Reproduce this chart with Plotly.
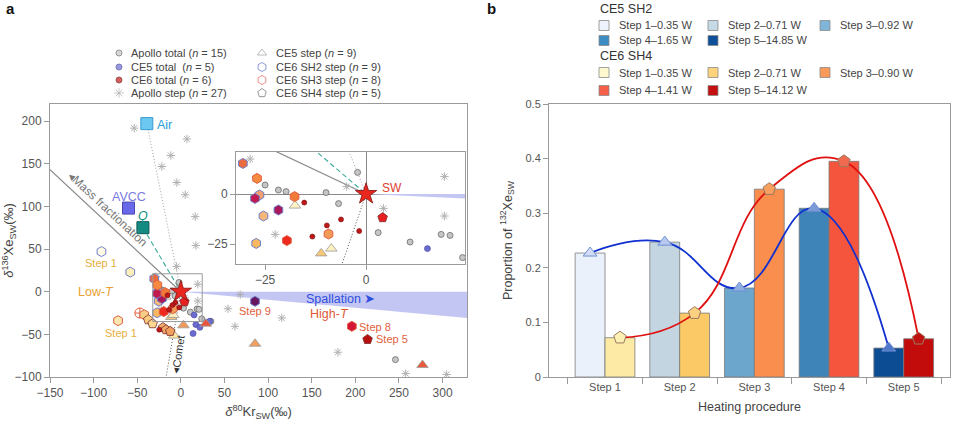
import plotly.graph_objects as go

W, H = 960, 421
FONT = "Liberation Sans"
TXT = "#444444"


def pxx(x):
    return x / W


def pxy(y):
    return 1 - y / H


# ---------------- panel a data ----------------
apollo_total_x = [-25, -21.7, -19.8, -9.9, -2.1, -6.8, 3, 10.9, 18.6, 20.8, 23.9, 34.4, 246]
apollo_total_y = [4.5, 2, 1.2, 0.7, 10.8, -4.8, -19.3, -24, -20.2, -20.7, -31.8, -34.7, -79.6]

ce5_total_x = [15.2, 17.2, 21.8, 14, 33]
ce5_total_y = [-27.3, -38.6, -41.8, -49, -34.7]

ce6_total_x = [-15.3, -6.2, -9.7, -1.7, -13.3, -24.8]
ce6_total_y = [-4.3, -12.7, -15.7, -18.5, -21.3, -44.5]

apollo_step_x = [-53.5, 6.9, -11.5, -21.8, -4.6, 5, 16.4, 17.2, -4.8, 68, 54, 62, 115.7, 180,
                 257.7, 304.7, -28.7, -4.8, 4.3, -22.5, 19.4, 19.4]
apollo_step_y = [191.7, 179, 159.6, 146.7, 128, 113.6, 88, 54.2, 29.6, -3.5, -20, -40.6, -30.8, -71,
                 -96, -97, 17.5, 3.7, -7.2, -20.2, 8.7, -11]

ce5_step_x = [-17.6, -11.1, -8.6, -7.6, 3, 28.6, 85, 277]
ce5_step_y = [-5.8, -29.7, -27.3, -51.5, -39.4, -37.5, -61, -86]
ce5_step_col = ["#fff4c6", "#f8c878", "#fff0c0", "#fde6a0", "#f39a5a", "#e8553a", "#f0a060", "#e85a3a"]

ce6_sh2_x = [-91, -58, -25.4, -26.4, -30.5, -21.7, -27.5, -27.2, 85]
ce6_sh2_y = [47, 23, -11, -0.5, 15.3, -8, -2.2, -24.7, -11.3]
ce6_sh2_col = ["#fffbe6", "#fbeeb8", "#f5b77a", "#f2a070", "#ec6a40", "#a8185a", "#c01a50", "#f8b860", "#6a1560"]

ce6_sh3_x = [-72, -47, -42, -27, -17.7, -9.3, -19.6, 196]
ce6_sh3_y = [-34, -25, -27, 7.8, -1.3, -20, -23.3, -40.6]
ce6_sh3_col = ["#fde6b0", "#ffffff", "#f9cf88", "#f58a40", "#f27a38", "#f29a58", "#ee2a20", "#d51535"]
ce6_sh3_sym = ["hexagon", "circle-cross", "hexagon", "hexagon", "hexagon", "hexagon", "hexagon", "hexagon"]

ce6_sh4_x = [-37.4, -32.4, -20.5, -17, -12.2, 4.1, 214]
ce6_sh4_y = [-32.8, -37.5, -42, -44.5, -46.5, -11.8, -56]
ce6_sh4_col = ["#f8cc80", "#fcd890", "#f4b070", "#f0a868", "#f0a060", "#e82020", "#b81010"]

sw_xy = (0, 0)
air_xy = (-39, 197)
avcc_xy = (-60, 98)
q_xy = (-43.5, 75)
mass_frac_x = [-150, 0]
mass_frac_y = [143, 0]
comet_x = [0, -17]
comet_y = [0, -100]
spall_x = [0, 330, 330, 0]
spall_y = [0, 0, -31, 0]

inset_xr = [-32.2, 24.5]
inset_yr = [-35, 21]

# ---------------- panel b data ----------------
steps = ["Step 1", "Step 2", "Step 3", "Step 4", "Step 5"]
ce5_vals = [0.227, 0.247, 0.163, 0.309, 0.053]
ce6_vals = [0.072, 0.117, 0.344, 0.395, 0.070]
ce5_names = ["Step 1–0.35 W", "Step 2–0.71 W", "Step 3–0.92 W", "Step 4–1.65 W", "Step 5–14.85 W"]
ce6_names = ["Step 1–0.35 W", "Step 2–0.71 W", "Step 3–0.90 W", "Step 4–1.41 W", "Step 5–14.12 W"]
ce5_colors = ["#ebf1fb", "#c2d5e1", "#6ca6cd", "#3f84b8", "#0c4c93"]
ce6_colors = ["#fdeaa4", "#fbc965", "#f98e4f", "#f5553c", "#c20c0c"]
ce5_leg_colors = ["#eef2fa", "#c5d9e6", "#7fb5d8", "#3c8cc4", "#0d4f99"]
ce6_leg_colors = ["#fef8cf", "#fcd27a", "#f9995a", "#f5604a", "#c41010"]
ce5_tri_col = ["#d2ddf5", "#b8c8ee", "#8eaee0", "#7c9ad8", "#4f78c8"]
ce6_pent_col = ["#fdf0b5", "#fbd080", "#f8a060", "#f06a50", "#c01010"]

fig = go.Figure()

# ---------- panel a traces (main and inset) ----------
for xa, ya in (("x", "y"), ("x2", "y2")):
    fig.add_trace(go.Scatter(x=spall_x, y=spall_y, mode="lines", fill="toself",
                             fillcolor="#c3c6f3", line=dict(width=0), xaxis=xa, yaxis=ya,
                             showlegend=False, hoverinfo="skip"))
    fig.add_trace(go.Scatter(x=mass_frac_x, y=mass_frac_y, mode="lines",
                             line=dict(color="#8a8a8a", width=1.2), xaxis=xa, yaxis=ya, showlegend=False))
    fig.add_trace(go.Scatter(x=[q_xy[0], sw_xy[0]], y=[q_xy[1], sw_xy[1]], mode="lines",
                             line=dict(color="#3aaa98", width=1.1, dash="5px,3px"), xaxis=xa, yaxis=ya,
                             showlegend=False))
    fig.add_trace(go.Scatter(x=[air_xy[0], sw_xy[0]], y=[air_xy[1], sw_xy[1]], mode="lines",
                             line=dict(color="#a0a0a0", width=1, dash="1px,2px"), xaxis=xa, yaxis=ya,
                             showlegend=False))
    fig.add_trace(go.Scatter(x=comet_x, y=comet_y, mode="lines",
                             line=dict(color="#555555", width=1, dash="1px,2px"), xaxis=xa, yaxis=ya,
                             showlegend=False))
    fig.add_trace(go.Scatter(x=apollo_step_x, y=apollo_step_y, mode="markers",
                             marker=dict(symbol="asterisk-open", size=7, color="#b0b0b0",
                                         line=dict(color="#b0b0b0", width=1)),
                             xaxis=xa, yaxis=ya, showlegend=False))
    fig.add_trace(go.Scatter(x=apollo_total_x, y=apollo_total_y, mode="markers",
                             marker=dict(symbol="circle", size=6, color="#c6c6c6",
                                         line=dict(color="#6a6a6a", width=0.8)),
                             xaxis=xa, yaxis=ya, showlegend=False))
    fig.add_trace(go.Scatter(x=ce5_total_x, y=ce5_total_y, mode="markers",
                             marker=dict(symbol="circle", size=6, color="#6c6cd0",
                                         line=dict(color="#4444a0", width=0.6)),
                             xaxis=xa, yaxis=ya, showlegend=False))
    fig.add_trace(go.Scatter(x=ce5_step_x, y=ce5_step_y, mode="markers",
                             marker=dict(symbol="triangle-up", size=10, color=ce5_step_col,
                                         line=dict(color="#9a9a9a", width=0.8)),
                             xaxis=xa, yaxis=ya, showlegend=False))
    fig.add_trace(go.Scatter(x=ce6_sh2_x, y=ce6_sh2_y, mode="markers",
                             marker=dict(symbol="hexagon", size=10, color=ce6_sh2_col,
                                         line=dict(color="#6f7fc8", width=1)),
                             xaxis=xa, yaxis=ya, showlegend=False))
    fig.add_trace(go.Scatter(x=ce6_sh3_x, y=ce6_sh3_y, mode="markers",
                             marker=dict(symbol=ce6_sh3_sym, size=10, color=ce6_sh3_col,
                                         line=dict(color="#e06040", width=1)),
                             xaxis=xa, yaxis=ya, showlegend=False))
    fig.add_trace(go.Scatter(x=ce6_sh4_x, y=ce6_sh4_y, mode="markers",
                             marker=dict(symbol="pentagon", size=10, color=ce6_sh4_col,
                                         line=dict(color="#7a2a2a", width=0.8)),
                             xaxis=xa, yaxis=ya, showlegend=False))
    fig.add_trace(go.Scatter(x=ce6_total_x, y=ce6_total_y, mode="markers",
                             marker=dict(symbol="circle", size=5, color="#c01818",
                                         line=dict(color="#701010", width=0.6)),
                             xaxis=xa, yaxis=ya, showlegend=False))
    fig.add_trace(go.Scatter(x=[sw_xy[0]], y=[sw_xy[1]], mode="markers",
                             marker=dict(symbol="star", size=16, color="#e8281e",
                                         line=dict(color="#801010", width=0.8)),
                             xaxis=xa, yaxis=ya, showlegend=False))

# end members (main only)
fig.add_trace(go.Scatter(x=[air_xy[0], avcc_xy[0], q_xy[0]], y=[air_xy[1], avcc_xy[1], q_xy[1]],
                         mode="markers",
                         marker=dict(symbol="square", size=12, color=["#6cc8f0", "#6868e8", "#138a82"],
                                     line=dict(color=["#3a9ad0", "#4848b0", "#0a5a55"], width=1)),
                         xaxis="x", yaxis="y", showlegend=False))

# ---------- panel b traces ----------
for i in range(len(steps)):
    fig.add_trace(go.Bar(x=[i], y=[ce5_vals[i]], width=0.4, offset=-0.4,
                         marker=dict(color=ce5_colors[i], line=dict(color="#7a7a7a", width=0.8)),
                         xaxis="x3", yaxis="y3", showlegend=False))
    fig.add_trace(go.Bar(x=[i], y=[ce6_vals[i]], width=0.4, offset=0,
                         marker=dict(color=ce6_colors[i], line=dict(color="#7a7a7a", width=0.8)),
                         xaxis="x3", yaxis="y3", showlegend=False))

ce5_pos = [i - 0.2 for i in range(len(steps))]
ce6_pos = [i + 0.2 for i in range(len(steps))]
fig.add_trace(go.Scatter(x=ce5_pos, y=ce5_vals, mode="lines",
                         line=dict(color="#1030d0", width=1.8, shape="spline", smoothing=1.3),
                         xaxis="x3", yaxis="y3", showlegend=False))
fig.add_trace(go.Scatter(x=ce6_pos, y=ce6_vals, mode="lines",
                         line=dict(color="#e01010", width=1.8, shape="spline", smoothing=1.3),
                         xaxis="x3", yaxis="y3", showlegend=False))
fig.add_trace(go.Scatter(x=ce5_pos, y=ce5_vals, mode="markers",
                         marker=dict(symbol="triangle-up", size=12, color=ce5_tri_col,
                                     line=dict(color="#6f8fd6", width=1)),
                         xaxis="x3", yaxis="y3", showlegend=False))
fig.add_trace(go.Scatter(x=ce6_pos, y=ce6_vals, mode="markers",
                         marker=dict(symbol="pentagon", size=13, color=ce6_pent_col,
                                     line=dict(color="#9a7a60", width=1)),
                         xaxis="x3", yaxis="y3", showlegend=False))

# ---------- panel a legend keys (overlay pixel axes) ----------
leg_a_labels = ["Apollo total (<i>n</i> = 15)", "CE5 total  (<i>n</i> = 5)", "CE6 total (<i>n</i> = 6)",
                "Apollo step (<i>n</i> = 27)", "CE5 step (<i>n</i> = 9)", "CE6 SH2 step (<i>n</i> = 9)",
                "CE6 SH3 step (<i>n</i> = 8)", "CE6 SH4 step (<i>n</i> = 5)"]
leg_a_sym = ["circle", "circle", "circle", "asterisk-open", "triangle-up-open", "hexagon-open",
             "hexagon-open", "pentagon-open"]
leg_a_col = ["#c6c6c6", "#6c6cd0", "#c01818", "#b0b0b0", "#a0a0a0", "#5a6fd0", "#e06050", "#6a6a6a"]
leg_a_line = ["#6a6a6a", "#4444a0", "#701010", "#b0b0b0", "#a0a0a0", "#5a6fd0", "#e06050", "#6a6a6a"]
leg_a_size = [6, 6, 6, 8, 8, 9, 9, 9]
rows_y = [53, 67, 80, 93]
kx, ky = [], []
for j in range(8):
    kx.append(119 if j < 4 else 262)
    ky.append(rows_y[j % 4])
fig.add_trace(go.Scatter(x=kx, y=ky, mode="markers",
                         marker=dict(symbol=leg_a_sym, size=leg_a_size, color=leg_a_col,
                                     line=dict(color=leg_a_line, width=1)),
                         xaxis="x4", yaxis="y4", showlegend=False, hoverinfo="skip"))

ann = []
for j in range(8):
    ann.append(dict(x=pxx(129 if j < 4 else 274), y=pxy(rows_y[j % 4]), xref="paper", yref="paper",
                    text=leg_a_labels[j], showarrow=False, xanchor="left", yanchor="middle",
                    font=dict(size=11, color=TXT, family=FONT)))

# ---------- panel b legend ----------
shapes = []
col_sq = [599, 708, 820]
col_tx = [617, 726, 838]
rowsb = [[25.5, 25.5, 25.5, 40.5, 40.5], [72.5, 72.5, 72.5, 90.5, 90.5]]
colsb = [0, 1, 2, 0, 1]
for g, (names, cols) in enumerate(((ce5_names, ce5_leg_colors), (ce6_names, ce6_leg_colors))):
    for k in range(5):
        cx = col_sq[colsb[k]]
        cy = rowsb[g][k]
        shapes.append(dict(type="rect", xref="paper", yref="paper", x0=pxx(cx), x1=pxx(cx + 10),
                           y0=pxy(cy + 5), y1=pxy(cy - 5), fillcolor=cols[k],
                           line=dict(color="#8a8a8a", width=0.8)))
        ann.append(dict(x=pxx(col_tx[colsb[k]]), y=pxy(cy), xref="paper", yref="paper", text=names[k],
                        showarrow=False, xanchor="left", yanchor="middle",
                        font=dict(size=11, color=TXT, family=FONT)))
ann.append(dict(x=pxx(598), y=pxy(9), xref="paper", yref="paper", text="CE5 SH2", showarrow=False,
                xanchor="left", yanchor="middle", font=dict(size=12.5, color="#333", family=FONT)))
ann.append(dict(x=pxx(598), y=pxy(56), xref="paper", yref="paper", text="CE6 SH4", showarrow=False,
                xanchor="left", yanchor="middle", font=dict(size=12.5, color="#333", family=FONT)))

# panel letters
ann.append(dict(x=pxx(4), y=pxy(9), xref="paper", yref="paper", text="<b>a</b>", showarrow=False,
                xanchor="left", yanchor="middle", font=dict(size=15, color="#111", family=FONT)))
ann.append(dict(x=pxx(485), y=pxy(9), xref="paper", yref="paper", text="<b>b</b>", showarrow=False,
                xanchor="left", yanchor="middle", font=dict(size=15, color="#111", family=FONT)))


# panel a text labels (data coords)
def lab(x, y, t, c, s=12, xa="x", ya="y", anchor="center", angle=0):
    ann.append(dict(x=x, y=y, xref=xa, yref=ya, text=t, showarrow=False, xanchor=anchor,
                    yanchor="middle", textangle=angle, font=dict(size=s, color=c, family=FONT)))


lab(-30, 195.5, "Air", "#28a0d8", 12.5, anchor="left")
lab(-60, 111, "AVCC", "#7a7ae0", 12.5)
lab(-43.9, 89, "<i>Q</i>", "#109080", 12.5)
lab(-84, 97, "◂Mass fractionation", "#777777", 12, angle=43)
lab(-3.5, -74, "◂Comet", "#333333", 11, angle=-82)
lab(-97, 0, "Low-<i>T</i>", "#e8a030", 12.5)
lab(-92, 34, "Step 1", "#e8b040", 11)
lab(-69, -48, "Step 1", "#e8b040", 11)
lab(183, -8, "Spallation ➤", "#3050e0", 12.5)
lab(170, -26, "High-<i>T</i>", "#e05a38", 12.5)
lab(85, -23, "Step 9", "#e06040", 11)
lab(223, -41, "Step 8", "#e06040", 11)
lab(242, -56, "Step 5", "#e06040", 11)
lab(3.5, 3, "SW", "#e04030", 12, xa="x2", ya="y2", anchor="left")

shapes.append(dict(type="rect", xref="x", yref="y", x0=inset_xr[0], x1=inset_xr[1], y0=inset_yr[0],
                   y1=inset_yr[1], line=dict(color="#9a9a9a", width=1)))

axcommon = dict(showgrid=False, showline=True, linecolor="#9a9a9a", linewidth=1, ticks="outside",
                ticklen=5, tickcolor="#9a9a9a", tickfont=dict(size=12, color="#555", family=FONT),
                automargin=False)

fig.update_layout(
    width=W, height=H, margin=dict(l=0, r=0, t=0, b=0),
    paper_bgcolor="white", plot_bgcolor="rgba(0,0,0,0)",
    barmode="overlay", showlegend=False,
    font=dict(family=FONT, color=TXT),
    xaxis=dict(domain=[pxx(50), pxx(467)], range=[-150, 328], anchor="y", mirror=True, zeroline=False,
               tickvals=[-150, -100, -50, 0, 50, 100, 150, 200, 250, 300],
               title=dict(text="<i>δ</i><sup>80</sup>Kr<sub>SW</sub>(‰)", font=dict(size=13, color="#444"),
                          standoff=8),
               **axcommon),
    yaxis=dict(domain=[pxy(377), pxy(104)], range=[-100, 220], anchor="x", mirror=True, zeroline=False,
               tickvals=[-100, -50, 0, 50, 100, 150, 200],
               title=dict(text="<i>δ</i><sup>136</sup>Xe<sub>SW</sub>(‰)", font=dict(size=13, color="#444"),
                          standoff=6),
               **axcommon),
    xaxis2=dict(domain=[pxx(236), pxx(465)], range=inset_xr, anchor="y2", mirror=True,
                zeroline=True, zerolinecolor="#8a8a8a", zerolinewidth=1, tickvals=[-25, 0],
                **axcommon),
    yaxis2=dict(domain=[pxy(264), pxy(152)], range=inset_yr, anchor="x2", mirror=True,
                zeroline=True, zerolinecolor="#8a8a8a", zerolinewidth=1, tickvals=[-25, 0],
                **axcommon),
    xaxis3=dict(domain=[pxx(549), pxx(950)], range=[-0.75, 4.62], anchor="y3", mirror=True,
                zeroline=False, tickvals=list(range(len(steps))), ticktext=steps,
                showgrid=False, showline=True, linecolor="#9a9a9a", ticks="",
                tickfont=dict(size=11, color="#555", family=FONT),
                minor=dict(tick0=-0.5, dtick=1, ticks="outside", ticklen=6, tickcolor="#9a9a9a"),
                title=dict(text="Heating procedure", font=dict(size=12.5, color="#444"), standoff=10),
                automargin=False),
    yaxis3=dict(domain=[pxy(377), pxy(104)], range=[0, 0.5], anchor="x3", mirror=True, zeroline=False,
                tickvals=[0, 0.1, 0.2, 0.3, 0.4, 0.5], ticktext=["0", "0.1", "0.2", "0.3", "0.4", "0.5"],
                showgrid=False, showline=True, linecolor="#9a9a9a", ticks="outside", ticklen=5,
                tickcolor="#9a9a9a", tickfont=dict(size=11, color="#555", family=FONT),
                title=dict(text="Proportion of <sup>132</sup>Xe<sub>SW</sub>", font=dict(size=12.5, color="#444"),
                           standoff=10),
                automargin=False),
    xaxis4=dict(domain=[0, 1], range=[0, W], anchor="y4", visible=False, fixedrange=True),
    yaxis4=dict(domain=[0, 1], range=[H, 0], anchor="x4", visible=False, fixedrange=True),
    annotations=ann,
    shapes=shapes,
)

fig.write_html("out.html")
